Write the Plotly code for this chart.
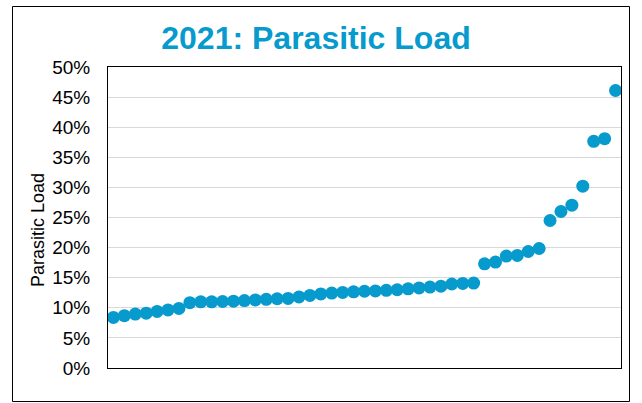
import plotly.graph_objects as go

# Data
sites = list(range(1, 48))
parasitic_load_pct = [
    8.4, 8.7, 8.95, 9.1, 9.4, 9.65, 9.9, 10.85, 11.0, 11.0, 11.05, 11.1, 11.2, 11.3, 11.4, 11.5,
    11.55, 11.8, 12.05, 12.3, 12.45, 12.55, 12.65, 12.75, 12.8, 12.9, 13.0, 13.15, 13.3, 13.45,
    13.6, 13.95, 14.05, 14.1,
    17.3, 17.6, 18.6, 18.7, 19.35, 19.85, 24.5, 26.0, 27.05, 30.2, 37.65, 38.1, 46.1,
]
y_values = [v / 100 for v in parasitic_load_pct]
tick_vals = [i * 0.05 for i in range(11)]
tick_text = [f"{i * 5}%" for i in range(11)]

title_text = "2021: Parasitic Load"
y_title = "Parasitic Load"

W, H = 642, 403
L, R, T, B = 108, 621, 67, 368  # plot area pixel box

def px_x(px):
    return (px - L) / (R - L)

def px_y(py):
    return (B - py) / (B - T)

BLUE = "#079ACD"
FONT = "Liberation Sans, Arial, sans-serif"

fig = go.Figure(
    go.Scatter(
        x=sites,
        y=y_values,
        mode="markers",
        marker=dict(size=13, color=BLUE, line=dict(width=0)),
        hoverinfo="skip",
    )
)

fig.update_layout(
    width=W,
    height=H,
    margin=dict(l=L, r=W - R, t=T, b=H - B, pad=0),
    paper_bgcolor="white",
    plot_bgcolor="white",
    showlegend=False,
    font=dict(family=FONT, color="#000000"),
    title=dict(
        text=f"<b>{title_text}</b>",
        x=316 / W,
        xanchor="center",
        xref="container",
        y=1 - 38 / H,
        yanchor="middle",
        yref="container",
        font=dict(family=FONT, size=32, color=BLUE),
    ),
    xaxis=dict(
        range=[0.5, 47.5],
        showgrid=False,
        zeroline=False,
        showticklabels=False,
        ticks="",
        showline=True,
        linecolor="#000000",
        linewidth=1,
        mirror=True,
        fixedrange=True,
    ),
    yaxis=dict(
        range=[0, 0.5],
        tickvals=tick_vals,
        ticktext=tick_text,
        showgrid=True,
        gridcolor="#D9D9D9",
        gridwidth=1,
        zeroline=False,
        ticks="",
        ticklabelstandoff=13,
        tickfont=dict(family=FONT, size=19, color="#000000"),
        showline=True,
        linecolor="#000000",
        linewidth=1,
        mirror=True,
        fixedrange=True,
    ),
    shapes=[
        dict(
            type="rect",
            xref="paper",
            yref="paper",
            x0=px_x(12.5),
            x1=px_x(629.5),
            y0=px_y(401.5),
            y1=px_y(6.5),
            line=dict(color="#000000", width=1),
            fillcolor="rgba(0,0,0,0)",
            layer="below",
        )
    ],
    annotations=[
        dict(
            text=y_title,
            xref="paper",
            yref="paper",
            x=px_x(38),
            y=px_y(230),
            xanchor="center",
            yanchor="middle",
            textangle=-90,
            showarrow=False,
            font=dict(family=FONT, size=18, color="#000000"),
        )
    ],
)

fig.write_html("out.html")
